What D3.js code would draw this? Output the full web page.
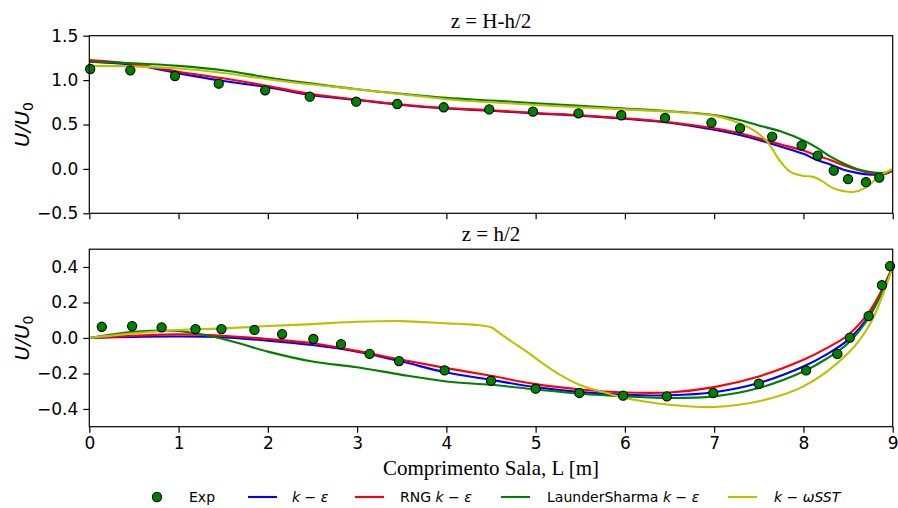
<!DOCTYPE html>
<html>
<head>
<meta charset="utf-8">
<script src="https://cdn.jsdelivr.net/npm/d3@7"></script>
<style>
  html, body { margin: 0; padding: 0; background: #fff; }
  svg { display: block; }
</style>
</head>
<body>
<svg id="chart" width="898" height="508"></svg>
<script>
// ---- Upper profile, z = H-h/2 ----
const xExpTop = [0.01, 0.46, 0.96, 1.45, 1.97, 2.47, 2.99, 3.45, 3.97, 4.48, 4.97, 5.48, 5.96, 6.45, 6.97, 7.29, 7.65, 7.98, 8.16, 8.34, 8.50, 8.70, 8.85];
const expTop = [1.125, 1.11, 1.046, 0.96, 0.885, 0.813, 0.757, 0.731, 0.694, 0.67, 0.645, 0.626, 0.604, 0.574, 0.521, 0.457, 0.364, 0.266, 0.15, -0.019, -0.116, -0.15, -0.098];

const xModelTop = [0, 0.5, 1, 1.5, 2, 2.5, 3, 3.5, 4, 4.5, 5, 5.5, 6, 6.5, 7, 7.25, 7.5, 7.75, 8, 8.15, 8.3, 8.45, 8.6, 8.75, 8.9, 9];
const kEpsTop = [1.207, 1.17, 1.076, 0.99, 0.92, 0.83, 0.776, 0.72, 0.68, 0.655, 0.625, 0.60, 0.565, 0.52, 0.44, 0.39, 0.326, 0.25, 0.17, 0.10, 0.05, -0.01, -0.045, -0.065, -0.06, -0.02];
const rngTop = [1.226, 1.18, 1.095, 1.02, 0.934, 0.84, 0.78, 0.725, 0.685, 0.66, 0.63, 0.605, 0.57, 0.525, 0.457, 0.41, 0.345, 0.275, 0.206, 0.15, 0.10, 0.04, -0.01, -0.045, -0.055, -0.02];
const launderTop = [1.207, 1.19, 1.16, 1.11, 1.03, 0.96, 0.897, 0.845, 0.80, 0.77, 0.74, 0.71, 0.68, 0.65, 0.607, 0.56, 0.49, 0.42, 0.32, 0.24, 0.14, 0.06, 0.0, -0.035, -0.045, -0.02];

const xSstTop = [0, 0.5, 1, 1.5, 2, 2.5, 3, 3.5, 4, 4.5, 5, 5.5, 6, 6.5, 7, 7.2, 7.45, 7.6, 7.73, 7.85, 8.0, 8.1, 8.18, 8.33, 8.45, 8.55, 8.7, 8.85, 9];
const sstTop = [1.16, 1.155, 1.13, 1.08, 1.01, 0.95, 0.897, 0.84, 0.785, 0.75, 0.72, 0.695, 0.67, 0.645, 0.60, 0.545, 0.43, 0.30, 0.10, -0.03, -0.08, -0.087, -0.12, -0.215, -0.25, -0.26, -0.21, -0.08, 0.0];

// ---- Lower profile, z = h/2 ----
const xExpBot = [0.14, 0.48, 0.81, 1.19, 1.48, 1.85, 2.16, 2.51, 2.82, 3.14, 3.47, 3.98, 4.50, 5.00, 5.49, 5.98, 6.47, 6.99, 7.50, 8.03, 8.38, 8.52, 8.73, 8.88, 8.97];
const expBot = [0.063, 0.067, 0.06, 0.05, 0.05, 0.045, 0.022, -0.006, -0.035, -0.09, -0.13, -0.183, -0.241, -0.286, -0.31, -0.325, -0.329, -0.31, -0.258, -0.183, -0.09, 0.002, 0.123, 0.297, 0.405];

const xModelBot = [0, 0.5, 1, 1.5, 2, 2.5, 3, 3.5, 4, 4.5, 5, 5.5, 6, 6.5, 7, 7.5, 8, 8.25, 8.5, 8.75, 9];
const kEpsBot = [0, 0.006, 0.008, 0.003, -0.015, -0.04, -0.077, -0.133, -0.195, -0.236, -0.277, -0.305, -0.32, -0.323, -0.306, -0.254, -0.161, -0.095, -0.011, 0.138, 0.405];
const rngBot = [0, 0.012, 0.02, 0.012, -0.006, -0.03, -0.073, -0.123, -0.17, -0.213, -0.26, -0.29, -0.307, -0.307, -0.277, -0.217, -0.123, -0.06, 0.017, 0.157, 0.40];
const launderBot = [0, 0.035, 0.039, -0.006, -0.077, -0.133, -0.165, -0.208, -0.245, -0.264, -0.29, -0.314, -0.329, -0.338, -0.329, -0.282, -0.189, -0.12, -0.03, 0.129, 0.40];

const xSstBot = [0, 0.5, 1, 1.5, 2, 2.5, 3, 3.5, 4, 4.3, 4.5, 4.6, 4.73, 4.9, 5.05, 5.27, 5.49, 5.72, 6, 6.5, 7, 7.5, 8, 8.5, 8.75, 9];
const sstBot = [0.0, 0.026, 0.045, 0.054, 0.067, 0.078, 0.091, 0.095, 0.082, 0.075, 0.06, 0.026, -0.02, -0.077, -0.133, -0.207, -0.264, -0.30, -0.338, -0.376, -0.389, -0.357, -0.273, -0.086, 0.082, 0.40];

// ---- Axis ticks ----
const xTicks = [0, 1, 2, 3, 4, 5, 6, 7, 8, 9];
const yTicksTop = [-0.5, 0.0, 0.5, 1.0, 1.5];
const yTicksBot = [-0.4, -0.2, 0.0, 0.2, 0.4];

const titles = ["z = H-h/2", "z = h/2"];
const xLabel = "Comprimento Sala, L [m]";

const colors = { exp: "#008000", kEps: "#0000ff", rng: "#ff0000", launder: "#008000", sst: "#bfbf00" };

// ---- Layout ----
const W = 898, H = 508;
const left = 89.3, right = 892.7;
const panels = [
  { top: 35.7, bottom: 213.3, yDomain: [-0.5, 1.5], yTicks: yTicksTop, showX: false,
    title: titles[0], titleY: 28,
    xExp: xExpTop, exp: expTop,
    lines: [
      { x: xModelTop, y: kEpsTop, c: colors.kEps },
      { x: xModelTop, y: rngTop, c: colors.rng },
      { x: xModelTop, y: launderTop, c: colors.launder },
      { x: xSstTop, y: sstTop, c: colors.sst }
    ] },
  { top: 249.2, bottom: 426.7, yDomain: [-0.5, 0.5], yTicks: yTicksBot, showX: true,
    title: titles[1], titleY: 241,
    xExp: xExpBot, exp: expBot,
    lines: [
      { x: xModelBot, y: kEpsBot, c: colors.kEps },
      { x: xModelBot, y: rngBot, c: colors.rng },
      { x: xModelBot, y: launderBot, c: colors.launder },
      { x: xSstBot, y: sstBot, c: colors.sst }
    ] }
];

const svg = d3.select("#chart");
const tickFont = "'DejaVu Sans', sans-serif";
const serif = "'Liberation Serif', 'Times New Roman', serif";

const x = d3.scaleLinear().domain([0, 9]).range([left, right]);

panels.forEach((p, i) => {
  const y = d3.scaleLinear().domain(p.yDomain).range([p.bottom, p.top]);
  const g = svg.append("g");

  const clipId = "clip" + i;
  svg.append("clipPath").attr("id", clipId)
    .append("rect").attr("x", left).attr("y", p.top)
    .attr("width", right - left).attr("height", p.bottom - p.top);

  const plot = g.append("g").attr("clip-path", `url(#${clipId})`);
  const line = d3.line().curve(d3.curveCatmullRom.alpha(0.5));

  // model curves
  p.lines.forEach(s => {
    plot.append("path")
      .attr("d", line(s.x.map((v, k) => [x(v), y(s.y[k])])))
      .attr("fill", "none")
      .attr("stroke", s.c)
      .attr("stroke-width", 2.1)
      .attr("stroke-linejoin", "round");
  });

  // experimental points
  g.append("g").selectAll("circle")
    .data(p.xExp.map((v, k) => [v, p.exp[k]]))
    .join("circle")
    .attr("cx", d => x(d[0]))
    .attr("cy", d => y(d[1]))
    .attr("r", 4.6)
    .attr("fill", colors.exp)
    .attr("stroke", "#000")
    .attr("stroke-width", 1.1);

  // axes
  const yAxis = d3.axisLeft(y).tickValues(p.yTicks).tickSize(6).tickPadding(5)
    .tickFormat(d3.format(".1f"));
  const ga = g.append("g").attr("transform", `translate(${left},0)`).call(yAxis);

  const xAxis = d3.axisBottom(x).tickValues(xTicks).tickSize(6).tickPadding(4)
    .tickFormat(p.showX ? d3.format("d") : () => "");
  const gx = g.append("g").attr("transform", `translate(0,${p.bottom})`).call(xAxis);

  [ga, gx].forEach(a => {
    a.select(".domain").remove();
    a.selectAll(".tick line").attr("stroke", "#000").attr("stroke-width", 1.2);
    a.selectAll(".tick text").attr("font-family", tickFont).attr("font-size", 17).attr("fill", "#000");
  });

  // frame
  g.append("rect")
    .attr("x", left).attr("y", p.top)
    .attr("width", right - left).attr("height", p.bottom - p.top)
    .attr("fill", "none").attr("stroke", "#000").attr("stroke-width", 1.2);

  // panel title
  g.append("text")
    .attr("x", (left + right) / 2).attr("y", p.titleY)
    .attr("text-anchor", "middle")
    .attr("font-family", serif).attr("font-size", 21)
    .text(p.title);

  // y label U/U0
  const yl = g.append("text")
    .attr("transform", `translate(29,${(p.top + p.bottom) / 2}) rotate(-90)`)
    .attr("text-anchor", "middle")
    .attr("font-family", tickFont).attr("font-size", 20);
  yl.append("tspan").attr("font-style", "italic").text("U/U");
  yl.append("tspan").attr("font-size", 14).attr("dy", 4).text("0");
});

// x label
svg.append("text")
  .attr("x", (left + right) / 2).attr("y", 475)
  .attr("text-anchor", "middle")
  .attr("font-family", serif).attr("font-size", 21)
  .text(xLabel);

// ---- Legend ----
const legY = 497;
const legend = svg.append("g").attr("font-family", tickFont).attr("font-size", 14);

legend.append("circle").attr("cx", 157).attr("cy", legY).attr("r", 4.6)
  .attr("fill", colors.exp).attr("stroke", "#000").attr("stroke-width", 1.1);
legend.append("text").attr("x", 189).attr("y", legY + 5).text("Exp");

const legItems = [
  { x0: 248, tx: 292, c: colors.kEps, pre: "", tail: "ε", after: "" },
  { x0: 355, tx: 400, c: colors.rng, pre: "RNG ", tail: "ε", after: "" },
  { x0: 501, tx: 547, c: colors.launder, pre: "LaunderSharma ", tail: "ε", after: "" },
  { x0: 728, tx: 774, c: colors.sst, pre: "", tail: "ωSST", after: "" }
];
legItems.forEach(it => {
  legend.append("line")
    .attr("x1", it.x0).attr("x2", it.x0 + 29)
    .attr("y1", legY).attr("y2", legY)
    .attr("stroke", it.c).attr("stroke-width", 2.1);
  const t = legend.append("text").attr("x", it.tx).attr("y", legY + 5);
  if (it.pre) t.append("tspan").text(it.pre);
  t.append("tspan").attr("font-style", "italic").text("k");
  t.append("tspan").text(" − ");
  t.append("tspan").attr("font-style", "italic").text(it.tail);
});
</script>
</body>
</html>
